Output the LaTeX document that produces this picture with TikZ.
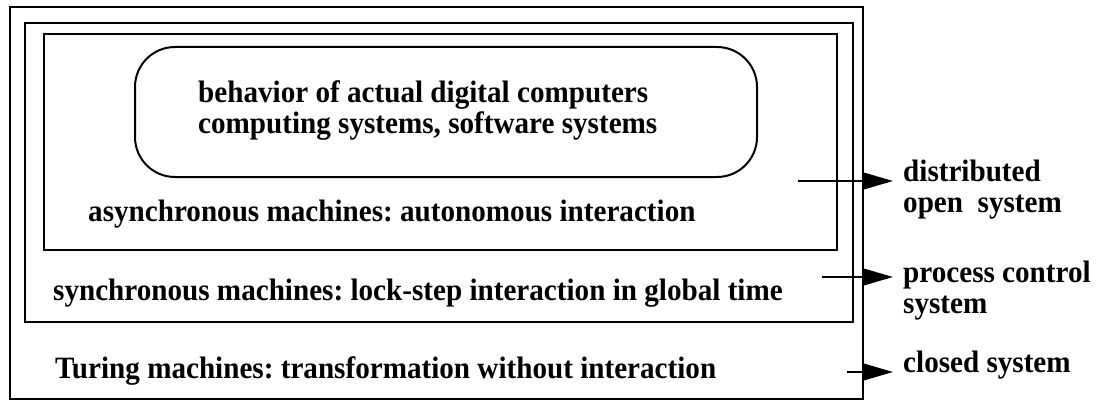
\documentclass[tikz,border=0pt]{standalone}
\usepackage{fontspec}
\setmainfont[FakeStretch=0.94]{Liberation Serif}
\usetikzlibrary{arrows.meta}
\frenchspacing
\begin{document}
\begin{tikzpicture}[x=1pt,y=-1pt,
  frame/.style={draw,line width=2pt,inner sep=0pt,outer sep=0pt},
  lbl/.style={anchor=base west,inner sep=0pt,align=left,font=\fontsize{31}{31}\selectfont\bfseries\frenchspacing},
  arr/.style={line width=2pt,-{Triangle[length=30pt,width=17pt]}}]
\useasboundingbox (0,0) rectangle (1097,401);
\node[frame,minimum width=853pt,minimum height=392pt] (outer) at (436.5,203) {};
\node[frame,minimum width=828pt,minimum height=299pt] (sync) at (439,172.5) {};
\node[frame,minimum width=793pt,minimum height=216pt] (async) at (440.5,142) {};
\node[frame,rounded corners=40pt,minimum width=622pt,minimum height=130pt] (actual) at (446,112) {};
% base anchor of a two-line node is the baseline of its last line
\node[lbl] (tactual) at (198,133) {behavior of actual digital computers\\computing systems, software systems};
\node[lbl] (tasync) at (88,221) {asynchronous machines: autonomous interaction};
\node[lbl] (tsync) at (53,300) {synchronous machines: lock-step interaction in global time};
\node[lbl] (tturing) at (55,378) {Turing machines: transformation without interaction};
\node[lbl] (ldist) at (903,212) {distributed\\open\ \ system};
\node[lbl] (lproc) at (903,313) {process control\\system};
\node[lbl] (lclosed) at (903,372) {closed system};
\coordinate (s1) at (798,181);
\coordinate (s2) at (822,277);
\coordinate (s3) at (847,372);
\draw[arr] (s1) -- ([xshift=-10pt]ldist.west |- s1);
\draw[arr] (s2) -- ([xshift=-10pt]lproc.west |- s2);
\draw[arr] (s3) -- ([xshift=-10pt]lclosed.west |- s3);
\end{tikzpicture}
\end{document}
